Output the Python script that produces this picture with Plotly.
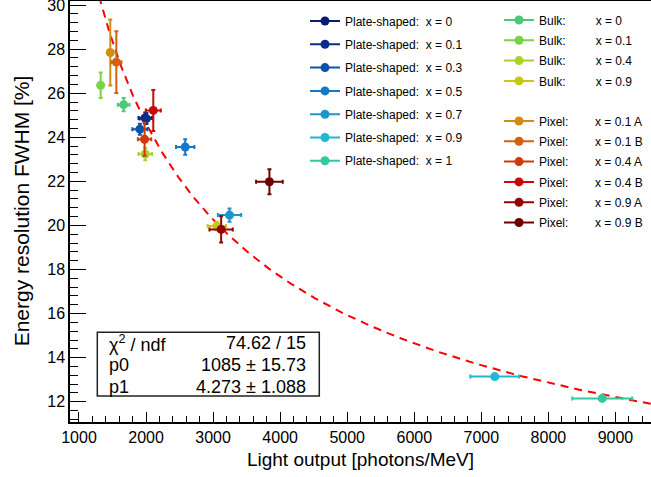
import numpy as np
import plotly.graph_objects as go

# ---------------- data ----------------
series_names = [
    "Plate-shaped:\u00a0\u00a0x = 0", "Plate-shaped:\u00a0\u00a0x = 0.1", "Plate-shaped:\u00a0\u00a0x = 0.3",
    "Plate-shaped:\u00a0\u00a0x = 0.5", "Plate-shaped:\u00a0\u00a0x = 0.7", "Plate-shaped:\u00a0\u00a0x = 0.9",
    "Plate-shaped:\u00a0\u00a0x = 1",
    "Bulk:" + "\u00a0" * 9 + "x = 0", "Bulk:" + "\u00a0" * 9 + "x = 0.1",
    "Bulk:" + "\u00a0" * 9 + "x = 0.4", "Bulk:" + "\u00a0" * 9 + "x = 0.9",
    "Pixel:" + "\u00a0" * 8 + "x = 0.1 A", "Pixel:" + "\u00a0" * 8 + "x = 0.1 B",
    "Pixel:" + "\u00a0" * 8 + "x = 0.4 A", "Pixel:" + "\u00a0" * 8 + "x = 0.4 B",
    "Pixel:" + "\u00a0" * 8 + "x = 0.9 A", "Pixel:" + "\u00a0" * 8 + "x = 0.9 B",
]
series_group = ["plate"] * 7 + ["bulk"] * 4 + ["pixel"] * 6
light_output = [1988, 2005, 1908, 2584, 3245, 7201, 8803,
                1666, 1323, 1988, 3056,
                1467, 1557, 1978, 2108, 3120, 3840]
light_err = [100, 100, 112, 137, 174, 365, 447,
             87, 0, 100, 137,
             0, 75, 100, 112, 174, 199]
resolution = [24.87, 24.85, 24.37, 23.56, 20.47, 13.14, 12.15,
              25.48, 26.36, 23.24, 19.97,
              27.85, 27.41, 23.91, 25.22, 19.82, 21.98]
resolution_err = [0.25, 0.25, 0.25, 0.35, 0.30, 0.10, 0.10,
                  0.30, 0.58, 0.28, 0.20,
                  1.50, 1.40, 0.75, 0.93, 0.60, 0.57]
colors = ["#081c74", "#0a2d8c", "#0c52aa", "#1478c8", "#1e96cc", "#1eb8d2", "#32c8a0",
          "#4cc878", "#7ad246", "#aad228", "#c8c814",
          "#d28c14", "#d2600f", "#d2380a", "#c80a0a", "#960505", "#6e0000"]

# fit parameters (f = sqrt(p0^2/x + p1^2))
fit_p0 = 1085
fit_p1 = 4.273
stats_labels = ["\u03c7<sup>2</sup> / ndf", "p0", "p1"]
stats_values = ["74.62 / 15", "1085 \u00b1 15.73", "4.273 \u00b1 1.088"]

FONT = "Liberation Sans, Arial, Helvetica, sans-serif"

fig = go.Figure()

# fit curve
xf = np.linspace(1300, 9700, 400)
yf = np.sqrt(fit_p0 ** 2 / xf + fit_p1 ** 2)
fig.add_trace(go.Scatter(x=xf, y=yf, mode="lines", showlegend=False, hoverinfo="skip",
                         line=dict(color="#ff0000", width=2, dash="8px,6px")))

legend_of = {"plate": "legend", "bulk": "legend2", "pixel": "legend3"}
for i, name in enumerate(series_names):
    c = colors[i]
    fig.add_trace(go.Scatter(
        x=[light_output[i]], y=[resolution[i]], name=name,
        mode="lines+markers",
        marker=dict(color=c, size=9, symbol="circle"),
        line=dict(color=c, width=2),
        error_x=dict(type="data", array=[light_err[i]], color=c, thickness=2, width=2, visible=light_err[i] > 0),
        error_y=dict(type="data", array=[resolution_err[i]], color=c, thickness=2, width=2),
        legend=legend_of[series_group[i]],
        legendgroup="g%d" % i,
    ))

W, H = 651, 477
ML, MB, MT, MR = 70, 55, 0, 0
PW, PH = W - ML - MR, H - MB - MT


def px2paper(px, py):
    return (px - ML) / PW, (H - MB - py) / PH


leg_common = dict(bgcolor="rgba(0,0,0,0)", borderwidth=0, traceorder="grouped",
                  font=dict(family=FONT, size=12, color="black"),
                  xref="paper", yref="paper", xanchor="left", yanchor="top")

l1x, l1y = px2paper(305, 6.5)
l2x, l2y = px2paper(499, 5.5)
l3x, l3y = px2paper(499, 106.5)

fig.update_layout(
    width=W, height=H,
    margin=dict(l=ML, r=MR, t=MT, b=MB, pad=0, autoexpand=False),
    paper_bgcolor="white", plot_bgcolor="white",
    font=dict(family=FONT, color="black"),
    legend=dict(**leg_common, x=l1x, y=l1y, tracegroupgap=4.3),
    legend2=dict(**leg_common, x=l2x, y=l2y, tracegroupgap=1.3),
    legend3=dict(**leg_common, x=l3x, y=l3y, tracegroupgap=1.3),
    xaxis=dict(range=[866, 9530], dtick=1000, tick0=0, showgrid=False, zeroline=False,
               showline=True, linecolor="black", linewidth=1.5,
               ticks="inside", ticklen=10, tickwidth=1, tickcolor="black",
               minor=dict(dtick=200, ticks="inside", ticklen=6, tickwidth=1, tickcolor="black"),
               tickfont=dict(size=16, family=FONT), ticklabeloverflow="allow",
               title=dict(text="Light output [photons/MeV]", font=dict(size=19, family=FONT), standoff=8)),
    yaxis=dict(range=[11.08, 30.23], dtick=2, tick0=0, showgrid=False, zeroline=False,
               showline=True, linecolor="black", linewidth=1.5,
               ticks="inside", ticklen=16, tickwidth=1, tickcolor="black",
               minor=dict(dtick=0.4, ticks="inside", ticklen=8, tickwidth=1, tickcolor="black"),
               tickfont=dict(size=16, family=FONT), ticklabeloverflow="allow",
               title=dict(text="Energy resolution FWHM [%]", font=dict(size=21, family=FONT), standoff=12)),
    showlegend=True,
)

# top frame line
fig.add_shape(type="line", xref="paper", yref="paper", x0=0, x1=1, y0=1, y1=1,
              line=dict(color="black", width=2))

# stats box
bx0, by0 = px2paper(97.3, 396)
bx1, by1 = px2paper(319.3, 332.3)
fig.add_shape(type="rect", xref="paper", yref="paper", x0=bx0, y0=by0, x1=bx1, y1=by1,
              line=dict(color="#222222", width=1.5), fillcolor="white")
row_py = [343.3, 365, 386.7]
for lab, val, py in zip(stats_labels, stats_values, row_py):
    xl, yy = px2paper(107, py)
    xr, _ = px2paper(308, py)
    fig.add_annotation(x=xl, y=yy, xref="paper", yref="paper", text=lab, showarrow=False,
                       xanchor="left", yanchor="middle", font=dict(size=18, family=FONT, color="black"))
    fig.add_annotation(x=xr, y=yy, xref="paper", yref="paper", text=val, showarrow=False,
                       xanchor="right", yanchor="middle", font=dict(size=18, family=FONT, color="black"))

fig.write_html("out.html", config={"displayModeBar": False},
               post_script="document.body.style.margin='0';document.body.style.overflow='hidden';")
